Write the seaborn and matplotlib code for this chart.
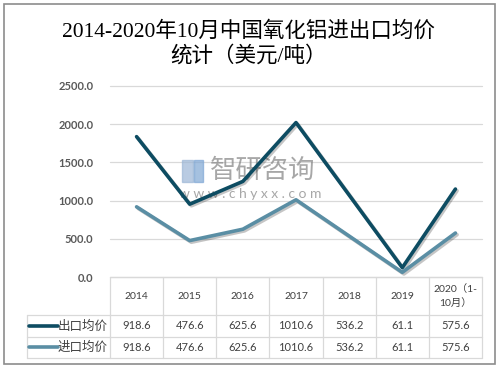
import numpy as np
import pandas as pd
import seaborn as sns
import matplotlib
matplotlib.use("Agg")
import matplotlib.pyplot as plt
import matplotlib.patheffects as pe
from matplotlib.lines import Line2D
from matplotlib.patches import Rectangle
import matplotlib.transforms as mtransforms

sns.set_theme(style="white")
plt.rcParams['font.family'] = ['Lato', 'Noto Sans CJK SC', 'DejaVu Sans']

# data (Excel stacked line chart: table shows raw values, lines are stacked)
years = ['2014', '2015', '2016', '2017', '2018', '2019', '2020（1-\n10月）']
export_price = [918.6, 476.6, 625.6, 1010.6, 536.2, 61.1, 575.6]
import_price = [918.6, 476.6, 625.6, 1010.6, 536.2, 61.1, 575.6]
series_names = ['出口均价', '进口均价']
colors = ['#0d4c62', '#5a8ea4']
yticks = [0, 500, 1000, 1500, 2000, 2500]

stack_import = np.array(import_price)
stack_export = stack_import + np.array(export_price)
df = pd.DataFrame({
    'x': list(range(len(years))) * 2,
    'value': list(stack_export) + list(stack_import),
    'series': [series_names[0]] * len(years) + [series_names[1]] * len(years),
})

fig = plt.figure(figsize=(5, 3.68), dpi=100)
fig.patch.set_facecolor('white')
# outer border
fig.add_artist(Rectangle((3.5 / 500, 4.5 / 368), 491 / 500, 360 / 368, transform=fig.transFigure,
                         fill=False, edgecolor='#8c8c8c', linewidth=1.2))

ax = fig.add_axes([110 / 500, 91 / 368, 372 / 500, 191 / 368])
ax.set_xlim(-0.5, len(years) - 0.5)
ax.set_ylim(0, 2500)
for v in yticks:
    ax.axhline(v, color='#d9d9d9', linewidth=0.9, zorder=0, clip_on=False)

# watermark
ax.text(2.38, 1390, '智研咨询', fontsize=19, color='#8a8a8a', alpha=0.75, ha='center', va='center',
        family=['Noto Sans CJK SC'], zorder=1)
ax.text(2.14, 1080, 'w w w . c h y x x . c o m', fontsize=10, color='#8a8a8a', alpha=0.75,
        ha='center', va='center', zorder=1)
ax.add_patch(Rectangle((0.86, 1240), 0.2, 288, color='#9cb6d6', alpha=0.7, zorder=1))
ax.add_patch(Rectangle((1.08, 1240), 0.17, 288, color='#7fa7d4', alpha=0.7, zorder=1))

sns.lineplot(data=df, x='x', y='value', hue='series', palette=colors, linewidth=2.6,
             legend=False, ax=ax, zorder=3,
             path_effects=[pe.SimpleLineShadow(offset=(1.2, -1.2), alpha=0.25), pe.Normal()])

ax.set_yticks(yticks)
ax.set_yticklabels(['%.1f' % v for v in yticks], fontsize=8, color='#595959', fontweight='bold')
ax.tick_params(axis='y', length=0, pad=12)
ax.set_xticks([])
ax.set_xlabel('')
ax.set_ylabel('')
for s in ax.spines.values():
    s.set_visible(False)

# data table below axes
trans = mtransforms.blended_transform_factory(ax.transData, ax.transAxes)
h_rows = [0, -0.199, -0.314, -0.424]
left = -0.5 - 83 / 53.1
line_kw = dict(color='#d9d9d9', linewidth=0.9, transform=trans, clip_on=False)
ax.add_line(Line2D([-0.5, len(years) - 0.5], [0, 0], **line_kw))
for yv in h_rows[1:]:
    ax.add_line(Line2D([left, len(years) - 0.5], [yv, yv], **line_kw))
for i in range(len(years) + 1):
    ax.add_line(Line2D([i - 0.5, i - 0.5], [0, h_rows[-1]], **line_kw))
ax.add_line(Line2D([left, left], [h_rows[1], h_rows[-1]], **line_kw))

for i, yr in enumerate(years):
    ax.text(i, (h_rows[0] + h_rows[1]) / 2, yr, transform=trans, ha='center', va='center',
            fontsize=7.5, color='#404040', linespacing=1.5)

rows = [export_price, import_price]
for r, vals in enumerate(rows):
    yc = (h_rows[r + 1] + h_rows[r + 2]) / 2
    for i, v in enumerate(vals):
        ax.text(i, yc, '%.1f' % v, transform=trans, ha='center', va='center',
                fontsize=8, color='#404040')
    ax.add_line(Line2D([left + 0.04, left + 0.58], [yc, yc], color=colors[r], linewidth=2.6,
                       transform=trans, clip_on=False, solid_capstyle='round'))
    ax.text(left + 0.58, yc, series_names[r], transform=trans, ha='left', va='center',
            fontsize=9, color='#404040', family=['Noto Sans CJK SC'])

# title
title_font = ['Liberation Serif', 'Noto Sans CJK SC']
fig.text(0.497, 1 - 31 / 368, '2014-2020年10月中国氧化铝进出口均价', ha='center', va='center',
         fontsize=15.5, color='black', family=title_font)
fig.text(0.497, 1 - 56 / 368, '统计（美元/吨）', ha='center', va='center',
         fontsize=15.5, color='black', family=title_font)

fig.savefig('out.png', dpi=100)
